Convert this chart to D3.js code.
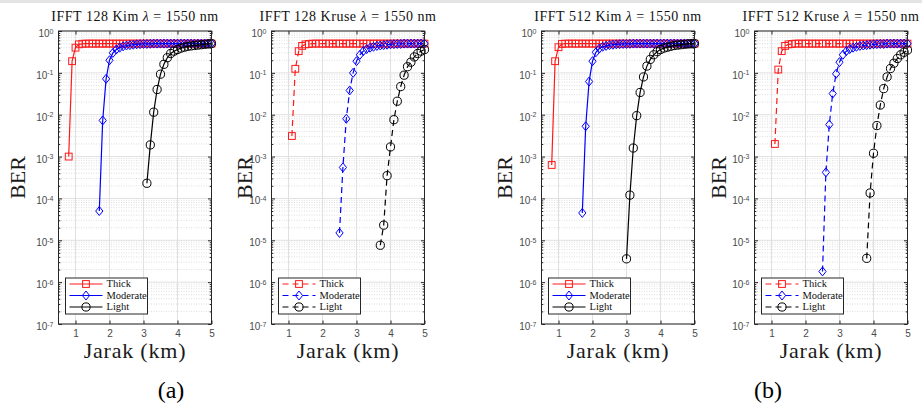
<!DOCTYPE html>
<html><head><meta charset="utf-8">
<script src="https://cdnjs.cloudflare.com/ajax/libs/d3/7.8.5/d3.min.js"></script>
<style>body{margin:0;background:#fff}svg{display:block}
.srf{font-family:"Liberation Serif","Times New Roman","DejaVu Serif",serif}
.sns{font-family:"Liberation Sans",Arial,sans-serif}
</style>
</head><body><svg id="c" width="922" height="407"></svg>
<script>
// ---------- DATA ----------
const jarak = [0.8,0.9,1.0,1.1,1.2,1.3,1.4,1.5,1.6,1.7,1.8,1.9,2.0,2.1,2.2,2.3,2.4,2.5,2.6,2.7,2.8,2.9,3.0,3.1,3.2,3.3,3.4,3.5,3.6,3.7,3.8,3.9,4.0,4.1,4.2,4.3,4.4,4.5,4.6,4.7,4.8,4.9,5.0];
const seriesNames = ["Thick","Moderate","Light"];
const panelTitles = ["IFFT 128 Kim","IFFT 128 Kruse","IFFT 512 Kim","IFFT 512 Kruse"];
const subLabels = ["(a)","(b)"];
const xTicks = [1,2,3,4,5];
const yDecades = [1e-7,1e-6,1e-5,1e-4,1e-3,1e-2,1e-1,1];

const kim128Thick = [1.0e-3,0.19,0.40,0.48,0.495,0.5,0.5,0.5,0.5,0.5,0.5,0.5,0.5,0.5,0.5,0.5,0.5,0.5,0.5,0.5,0.5,0.5,0.5,0.5,0.5,0.5,0.5,0.5,0.5,0.5,0.5,0.5,0.5,0.5,0.5,0.5,0.5,0.5,0.5,0.5,0.5,0.5,0.5];
const kim128Moderate = [null,null,null,null,null,null,null,null,null,5.0e-5,7.3e-3,0.072,0.20,0.30,0.36,0.40,0.43,0.45,0.46,0.47,0.48,0.485,0.49,0.49,0.495,0.5,0.5,0.5,0.5,0.5,0.5,0.5,0.5,0.5,0.5,0.5,0.5,0.5,0.5,0.5,0.5,0.5,0.5];
const kim128Light = [null,null,null,null,null,null,null,null,null,null,null,null,null,null,null,null,null,null,null,null,null,null,null,2.3e-4,1.9e-3,0.0115,0.04,0.093,0.16,0.23,0.29,0.33,0.36,0.39,0.41,0.43,0.44,0.45,0.46,0.47,0.48,0.49,0.5];

const kruse128Thick = [null,null,null,3.1e-3,0.125,0.33,0.44,0.48,0.49,0.5,0.5,0.5,0.5,0.5,0.5,0.5,0.5,0.5,0.5,0.5,0.5,0.5,0.5,0.5,0.5,0.5,0.5,0.5,0.5,0.5,0.5,0.5,0.5,0.5,0.5,0.5,0.5,0.5,0.5,0.5,0.5,0.5,0.5];
const kruse128Moderate = [null,null,null,null,null,null,null,null,null,null,null,null,null,null,null,null,null,1.5e-5,5.5e-4,8.0e-3,0.038,0.10,0.19,0.27,0.33,0.37,0.40,0.42,0.44,0.45,0.46,0.47,0.48,0.485,0.49,0.49,0.5,0.5,0.5,0.5,0.5,0.5,0.5];
const kruse128Light = [null,null,null,null,null,null,null,null,null,null,null,null,null,null,null,null,null,null,null,null,null,null,null,null,null,null,null,null,null,7.6e-6,2.3e-5,3.5e-4,1.7e-3,7.6e-3,0.021,0.047,0.088,0.14,0.18,0.24,0.29,0.33,0.36];

const kim512Thick = [6.3e-4,0.19,0.41,0.49,0.5,0.5,0.5,0.5,0.5,0.5,0.5,0.5,0.5,0.5,0.5,0.5,0.5,0.5,0.5,0.5,0.5,0.5,0.5,0.5,0.5,0.5,0.5,0.5,0.5,0.5,0.5,0.5,0.5,0.5,0.5,0.5,0.5,0.5,0.5,0.5,0.5,0.5,0.5];
const kim512Moderate = [null,null,null,null,null,null,null,null,null,4.5e-5,5.3e-3,0.062,0.19,0.31,0.38,0.42,0.44,0.46,0.47,0.48,0.485,0.49,0.49,0.495,0.5,0.5,0.5,0.5,0.5,0.5,0.5,0.5,0.5,0.5,0.5,0.5,0.5,0.5,0.5,0.5,0.5,0.5,0.5];
const kim512Light = [null,null,null,null,null,null,null,null,null,null,null,null,null,null,null,null,null,null,null,null,null,null,3.6e-6,1.2e-4,1.6e-3,9.5e-3,0.034,0.08,0.145,0.21,0.27,0.32,0.36,0.39,0.41,0.43,0.45,0.46,0.47,0.48,0.49,0.495,0.5];

const kruse512Thick = [null,null,null,2.0e-3,0.12,0.33,0.44,0.48,0.49,0.5,0.5,0.5,0.5,0.5,0.5,0.5,0.5,0.5,0.5,0.5,0.5,0.5,0.5,0.5,0.5,0.5,0.5,0.5,0.5,0.5,0.5,0.5,0.5,0.5,0.5,0.5,0.5,0.5,0.5,0.5,0.5,0.5,0.5];
const kruse512Moderate = [null,null,null,null,null,null,null,null,null,null,null,null,null,null,null,null,null,1.8e-6,4.2e-4,5.8e-3,0.032,0.095,0.18,0.27,0.33,0.37,0.40,0.42,0.44,0.45,0.46,0.47,0.48,0.485,0.49,0.49,0.5,0.5,0.5,0.5,0.5,0.5,0.5];
const kruse512Light = [null,null,null,null,null,null,null,null,null,null,null,null,null,null,null,null,null,null,null,null,null,null,null,null,null,null,null,null,null,null,3.7e-6,1.35e-4,1.2e-3,5.5e-3,0.017,0.042,0.08,0.127,0.17,0.22,0.27,0.31,0.35];

// ---------- LAYOUT / STYLE ----------
const panels = [
  {title: panelTitles[0], data:[kim128Thick,kim128Moderate,kim128Light], left:58.5, berX:18, dashed:false},
  {title: panelTitles[1], data:[kruse128Thick,kruse128Moderate,kruse128Light], left:271.5, berX:245, dashed:true},
  {title: panelTitles[2], data:[kim512Thick,kim512Moderate,kim512Light], left:541.5, berX:505, dashed:false},
  {title: panelTitles[3], data:[kruse512Thick,kruse512Moderate,kruse512Light], left:754.5, berX:719, dashed:true}
];
const PW = 153, TOP = 31, BOT = 324;
const colors = ["#ff1a1a","#0000ff","#000000"];
const symbols = ["square","diamond","circle"];
const axisCol = "#262626";

const svg = d3.select("#c");
svg.append("rect").attr("x",0).attr("y",0).attr("width",922).attr("height",3).attr("fill","#e4e4e4");

function drawMarker(g, type, cx, cy, col){
  if(type==="square"){
    g.append("rect").attr("x",cx-3.4).attr("y",cy-3.4).attr("width",6.8).attr("height",6.8)
     .attr("fill","none").attr("stroke",col).attr("stroke-width",1);
  } else if(type==="diamond"){
    g.append("path").attr("d",`M${cx},${cy-4.5}L${cx+3.6},${cy}L${cx},${cy+4.5}L${cx-3.6},${cy}Z`)
     .attr("fill","none").attr("stroke",col).attr("stroke-width",1);
  } else {
    g.append("circle").attr("cx",cx).attr("cy",cy).attr("r",4.1)
     .attr("fill","none").attr("stroke",col).attr("stroke-width",1);
  }
}

const minorVals = [];
yDecades.slice(0,-1).forEach(d=>{ for(let k=2;k<=9;k++) minorVals.push(d*k); });

function clean(sel){ sel.select(".domain").remove(); sel.attr("font-family",null); sel.selectAll("line").attr("stroke",axisCol); }

panels.forEach((p,pi)=>{
  const x = d3.scaleLinear().domain([0.5,5]).range([p.left,p.left+PW]);
  const y = d3.scaleLog().domain([1e-7,1]).range([BOT,TOP]);
  const g = svg.append("g");
  g.append("rect").attr("x",p.left).attr("y",TOP).attr("width",PW).attr("height",BOT-TOP).attr("fill","#fff");
  g.append("g").selectAll("line").data(minorVals).join("line")
    .attr("x1",p.left).attr("x2",p.left+PW).attr("y1",d=>y(d)).attr("y2",d=>y(d))
    .attr("stroke","#d0d0d0").attr("stroke-width",0.7).attr("stroke-dasharray","1,1.5");
  g.append("g").selectAll("line").data(yDecades).join("line")
    .attr("x1",p.left).attr("x2",p.left+PW).attr("y1",d=>y(d)).attr("y2",d=>y(d))
    .attr("stroke","#e0e0e0").attr("stroke-width",1);
  g.append("g").selectAll("line").data(xTicks).join("line")
    .attr("x1",d=>x(d)).attr("x2",d=>x(d)).attr("y1",TOP).attr("y2",BOT)
    .attr("stroke","#e0e0e0").attr("stroke-width",1);

  p.data.forEach((vals,si)=>{
    const pts = jarak.map((d,i)=>({x:d,y:vals[i]})).filter(d=>d.y!==null);
    const line = d3.line().x(d=>x(d.x)).y(d=>y(d.y));
    g.append("path").datum(pts).attr("d",line).attr("fill","none")
      .attr("stroke",colors[si]).attr("stroke-width",1.2)
      .attr("stroke-dasharray",p.dashed?"6,4":null);
    const mg = g.append("g");
    pts.forEach(d=>drawMarker(mg,symbols[si],x(d.x),y(d.y),colors[si]));
  });

  const yAx = g.append("g").attr("transform",`translate(${p.left},0)`)
    .call(d3.axisLeft(y).tickValues(yDecades).tickSizeInner(-3.5).tickSizeOuter(0).tickPadding(5));
  clean(yAx);
  yAx.selectAll("text").each(function(d){
    const t = d3.select(this); const e = Math.round(Math.log10(d));
    t.text(null).attr("class","sns").attr("font-size",10).attr("fill","#4a4a4a").attr("dy","0.55em");
    t.append("tspan").text("10");
    t.append("tspan").attr("dy","-0.5em").attr("font-size",7).text(String(e));
  });
  const yMin = g.append("g").attr("transform",`translate(${p.left},0)`)
    .call(d3.axisLeft(y).tickValues(minorVals).tickSizeInner(-1.8).tickSizeOuter(0).tickFormat(""));
  clean(yMin);
  const yR = g.append("g").attr("transform",`translate(${p.left+PW},0)`)
    .call(d3.axisRight(y).tickValues(yDecades).tickSizeInner(-3.5).tickSizeOuter(0).tickFormat(""));
  clean(yR);
  const yRm = g.append("g").attr("transform",`translate(${p.left+PW},0)`)
    .call(d3.axisRight(y).tickValues(minorVals).tickSizeInner(-1.8).tickSizeOuter(0).tickFormat(""));
  clean(yRm);

  const xAx = g.append("g").attr("transform",`translate(0,${BOT})`)
    .call(d3.axisBottom(x).tickValues(xTicks).tickSizeInner(-3.5).tickSizeOuter(0).tickPadding(6).tickFormat(d3.format("d")));
  clean(xAx);
  xAx.selectAll("text").attr("class","sns").attr("font-size",10).attr("fill","#4a4a4a");
  const xT = g.append("g").attr("transform",`translate(0,${TOP})`)
    .call(d3.axisTop(x).tickValues(xTicks).tickSizeInner(-3.5).tickSizeOuter(0).tickFormat(""));
  clean(xT);

  g.append("rect").attr("x",p.left).attr("y",TOP).attr("width",PW).attr("height",BOT-TOP)
    .attr("fill","none").attr("stroke",axisCol).attr("stroke-width",1);

  const tt = g.append("text").attr("class","srf").attr("x",p.left+PW/2).attr("y",21).attr("text-anchor","middle")
    .attr("font-size",14).attr("letter-spacing",0.5).attr("fill","#111");
  tt.append("tspan").text(p.title+" ");
  tt.append("tspan").attr("font-style","italic").text("λ");
  tt.append("tspan").text(" = 1550 nm");

  g.append("text").attr("class","srf").attr("transform",`translate(${p.berX+7},${(TOP+BOT)/2}) rotate(-90)`)
    .attr("text-anchor","middle").attr("font-size",22).attr("fill","#1a1a1a").text("BER");
  g.append("text").attr("class","srf").attr("x",p.left+PW/2).attr("y",358).attr("text-anchor","middle")
    .attr("font-size",22).attr("letter-spacing",0.8).attr("fill","#1a1a1a").text("Jarak (km)");

  const lx = p.left+7, ly = 278;
  const lg = g.append("g");
  lg.append("rect").attr("x",lx).attr("y",ly).attr("width",82).attr("height",36)
    .attr("fill","#fff").attr("stroke",axisCol).attr("stroke-width",1);
  seriesNames.forEach((nm,si)=>{
    const yy = ly+6+si*11.5;
    lg.append("line").attr("x1",lx+4).attr("x2",lx+37).attr("y1",yy).attr("y2",yy)
      .attr("stroke",colors[si]).attr("stroke-width",1.2).attr("stroke-dasharray",p.dashed?"6,4":null);
    drawMarker(lg,symbols[si],lx+20.5,yy,colors[si]);
    lg.append("text").attr("class","srf").attr("x",lx+41).attr("y",yy+3.3).attr("font-size",10.5)
      .attr("fill","#111").text(nm);
  });
});

svg.append("text").attr("class","srf").attr("x",171).attr("y",398).attr("text-anchor","middle")
  .attr("font-size",24).attr("fill","#000").text(subLabels[0]);
svg.append("text").attr("class","srf").attr("x",768).attr("y",398).attr("text-anchor","middle")
  .attr("font-size",24).attr("fill","#000").text(subLabels[1]);
</script></body></html>
